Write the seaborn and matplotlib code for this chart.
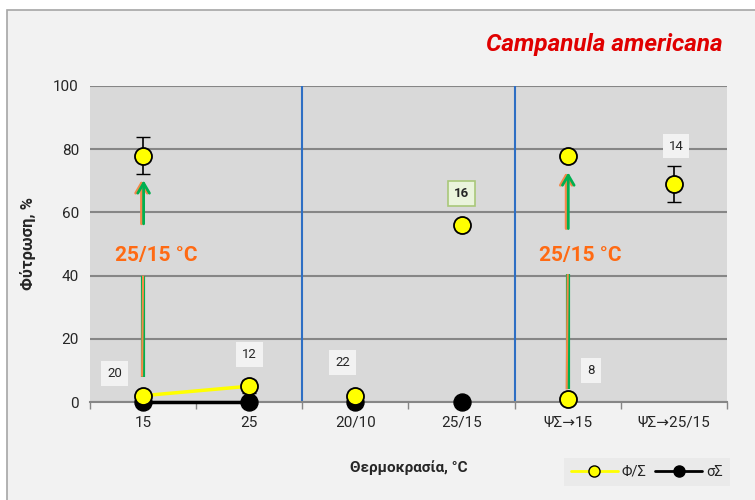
import matplotlib
matplotlib.use("Agg")
import matplotlib.pyplot as plt
import matplotlib.patches as mpatches
from matplotlib.lines import Line2D
import seaborn as sns
import pandas as pd
import numpy as np

categories = ["15", "25", "20/10", "25/15", "ΨΣ→15", "ΨΣ→25/15"]
# Φ/Σ germination (%) before transfer
fs_values = [2, 5, 2, 56, 1, 69]
fs_err = [0, 2, 0, 0, 0, 5.7]
# Φ/Σ after transfer to 25/15 °C
after_values = [78, None, None, None, 78, None]
after_err = [6, None, None, None, 0, None]
# σΣ
ss_values = [0, 0, 0, 0, None, None]
# duration labels (days)
day_labels = ["20", "12", "22", "16", "8", "14"]
day_label_y = [9, 15, 12.5, 66, 10, 81]

sns.set_theme(style="white")
plt.rcParams['font.family'] = ['Roboto', 'DejaVu Sans']

fig = plt.figure(figsize=(7.55, 5.0), dpi=100, facecolor="white")
fig.patches.append(mpatches.Rectangle((7/755, -0.01), 1.0, 0.98 + 0.01, transform=fig.transFigure,
                                      facecolor="#f2f2f2", edgecolor="#a6a6a6", lw=1.2, zorder=-10))
ax = fig.add_axes([90/755, (500-402)/500, (727-90)/755, 316/500])
ax.set_facecolor("#d9d9d9")

x = np.arange(len(categories))
df = pd.DataFrame({"x": x, "cat": categories, "fs": fs_values, "ss": ss_values,
                   "fs_err": fs_err, "after": after_values, "after_err": after_err})

# lines connecting constant-temperature treatments
line_df = df.iloc[:2]
sns.lineplot(data=line_df, x="x", y="fs", ax=ax, color="#ffff00", lw=2.5, zorder=7, legend=False)
sns.lineplot(data=line_df, x="x", y="ss", ax=ax, color="black", lw=2.5, zorder=7, legend=False)
for ln in ax.get_lines():
    ln.set_clip_on(False)

# error bars
ax.errorbar(df["x"], df["fs"], yerr=df["fs_err"], fmt="none", ecolor="black", capsize=5, lw=1.2, zorder=8)
adf = df.dropna(subset=["after"])
ax.errorbar(adf["x"], adf["after"].astype(float), yerr=adf["after_err"].astype(float), fmt="none",
            ecolor="black", capsize=5, lw=1.2, zorder=8)

sdf = df.dropna(subset=["ss"])
n0 = len(ax.collections)
sns.scatterplot(data=sdf, x="x", y="ss", ax=ax, color="black", s=150, edgecolor="black", zorder=9, legend=False)
sns.scatterplot(data=df, x="x", y="fs", ax=ax, color="#ffff00", s=150, edgecolor="black", linewidth=1.3,
                zorder=10, legend=False)
sns.scatterplot(data=adf, x="x", y="after", ax=ax, color="#ffff00", s=150, edgecolor="black", linewidth=1.3,
                zorder=10, legend=False)
for c in ax.collections[n0:]:
    c.set_clip_on(False)

# arrows for transfer to 25/15
orange = "#f4894a"
green = "#00b050"
for xi, (y0, y1, y2, y3) in [(0, (8, 40, 55.5, 71)), (4, (4, 40.5, 54, 73.5))]:
    ax.plot([xi, xi], [y0, y1], color=green, lw=3, zorder=2, solid_capstyle="butt")
    ax.plot([xi - 0.01, xi], [y0, y1], color=orange, lw=1.5, zorder=2, solid_capstyle="butt")
    ax.annotate("", xy=(xi - 0.015, y3), xytext=(xi - 0.015, y2),
                arrowprops=dict(arrowstyle="->,head_length=0.6,head_width=0.35", color=orange, lw=2), zorder=2)
    ax.annotate("", xy=(xi + 0.005, y3), xytext=(xi + 0.005, y2),
                arrowprops=dict(arrowstyle="->,head_length=0.6,head_width=0.35", color=green, lw=2), zorder=2)
    ax.text(xi + 0.12, 46.5, "25/15 °C", color="#ff6a13", fontsize=15, fontweight="bold",
            ha="center", va="center", zorder=7)

# duration labels
offsets = [-0.27, 0, -0.12, 0, 0.22, 0.02]
for i, lab in enumerate(day_labels):
    if lab == "16":
        ax.text(x[i] + offsets[i], day_label_y[i], lab, fontsize=9.5, fontweight="bold", ha="center", va="center",
                bbox=dict(boxstyle="square,pad=0.45", facecolor="#eaf4dc", edgecolor="#a9c87a", lw=1.2), zorder=7)
    else:
        ax.text(x[i] + offsets[i], day_label_y[i], lab, fontsize=9.5, ha="center", va="center",
                bbox=dict(boxstyle="square,pad=0.45", facecolor="#f2f2f2", edgecolor="none"), zorder=7)

ax.set_xlim(-0.5, len(categories) - 0.5)
ax.set_ylim(0, 100)
ax.set_yticks([0, 20, 40, 60, 80, 100])
ax.set_xticks(x)
ax.set_xticklabels(categories, fontsize=11)
ax.set_xticks(np.arange(-0.5, len(categories), 1.0), minor=True)
ax.tick_params(axis="x", which="major", length=0, pad=10)
ax.tick_params(axis="x", which="minor", length=5, color="#868686", width=1, direction="out", bottom=True)
ax.tick_params(axis="y", length=0, labelsize=11, pad=8)
ax.yaxis.grid(True, color="#868686", lw=1.5)
ax.set_axisbelow(True)
for s in ["top", "right", "left"]:
    ax.spines[s].set_visible(False)
ax.spines["bottom"].set_color("#868686")
ax.spines["bottom"].set_linewidth(1.5)
ax.spines["bottom"].set_zorder(1.5)
for xv in [1.5, 3.5]:
    ax.axvline(xv, color="#2e6fc4", lw=1.5, zorder=1)

ax.set_xlabel("Θερμοκρασία, °C", fontsize=11, fontweight="bold", labelpad=22)
ax.set_ylabel("Φύτρωση, %", fontsize=12, fontweight="bold", labelpad=12)

fig.text(723/755, (500-45)/500, "Campanula americana", color="#e00000", fontsize=17.5, fontweight="bold",
         fontstyle="italic", ha="right", va="center")

handles = [Line2D([0], [0], color="#ffff00", lw=2, marker="o", markersize=8, markerfacecolor="#ffff00",
                  markeredgecolor="black"),
           Line2D([0], [0], color="black", lw=2, marker="o", markersize=8, markerfacecolor="black")]
leg = fig.legend(handles, ["Φ/Σ", "σΣ"], loc="center", bbox_to_anchor=(647/755, (500-472)/500), ncol=2,
                 frameon=True, fontsize=10.5, handlelength=3.2, columnspacing=0.6, handletextpad=0.3,
                 borderpad=0.5, fancybox=False)
leg.get_frame().set_facecolor("#e8e8e8")
leg.get_frame().set_edgecolor("none")

fig.savefig("out.png", dpi=100, facecolor=fig.get_facecolor())
